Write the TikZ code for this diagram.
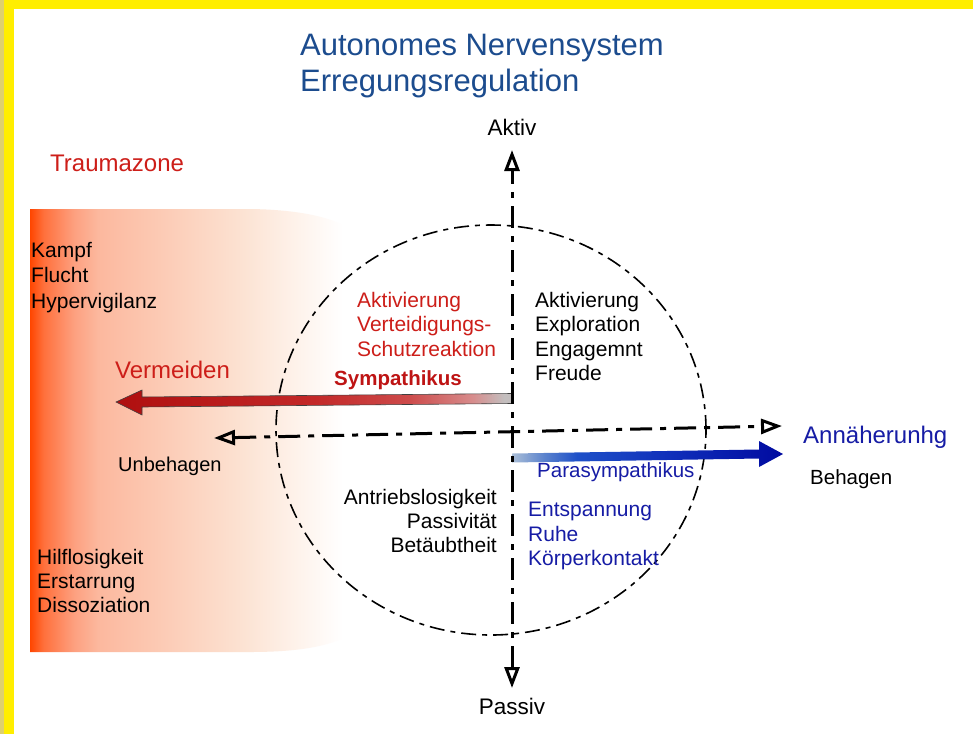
\documentclass[tikz,border=0pt]{standalone}
\usepackage{fontspec}
\setmainfont{Liberation Sans}
\usetikzlibrary{arrows.meta,calc}
\definecolor{framey}{RGB}{255,238,0}
\definecolor{framegold}{RGB}{222,208,110}
\definecolor{titleblue}{RGB}{28,76,142}
\definecolor{tzred}{RGB}{205,30,25}
\definecolor{boldred}{RGB}{190,20,20}
\definecolor{symA}{RGB}{175,15,15}
\definecolor{symB}{RGB}{195,40,40}
\definecolor{symC}{RGB}{205,75,75}
\definecolor{symD}{RGB}{215,140,140}
\definecolor{symE}{RGB}{195,190,190}
\definecolor{parablue}{RGB}{22,28,165}
\definecolor{paraA}{RGB}{170,190,215}
\definecolor{paraB}{RGB}{90,130,205}
\definecolor{paraC}{RGB}{30,80,200}
\definecolor{paraD}{RGB}{15,45,185}
\definecolor{paraE}{RGB}{0,10,160}
\definecolor{tzA}{RGB}{255,70,0}
\definecolor{tzB}{RGB}{255,112,60}
\definecolor{tzC}{RGB}{253,160,128}
\definecolor{tzD}{RGB}{252,184,158}
\definecolor{tzE}{RGB}{252,210,190}
\definecolor{tzF}{RGB}{252,226,210}
\definecolor{tzG}{RGB}{254,242,234}
\pgfdeclarehorizontalshading{traumashade}{100bp}{color(0bp)=(tzA); color(25bp)=(tzA); color(27bp)=(tzB); color(31.5bp)=(tzC); color(35bp)=(tzD); color(48bp)=(tzE); color(56bp)=(tzF); color(64bp)=(tzG); color(71bp)=(white); color(100bp)=(white)}
\pgfdeclarehorizontalshading{symshade}{100bp}{color(0bp)=(symA); color(25bp)=(symA); color(50bp)=(symB); color(62bp)=(symC); color(70bp)=(symD); color(74bp)=(symE); color(100bp)=(symE)}
\pgfdeclarehorizontalshading{parashade}{100bp}{color(0bp)=(paraA); color(25bp)=(paraA); color(31bp)=(paraB); color(37bp)=(paraC); color(55bp)=(paraD); color(75bp)=(paraE); color(100bp)=(paraE)}

\begin{document}
\begin{tikzpicture}[x=1pt,y=-1pt,
		body/.style={font=\fontsize{21}{24.5}\selectfont, inner sep=0pt, align=left},
		big/.style={body, font=\fontsize{24}{28}\selectfont},
		axisline/.style={line width=3pt, dash pattern=on 22pt off 8pt on 6pt off 8pt},
		ring/.style={line width=1.6pt, dash pattern=on 15pt off 6pt on 5pt off 6pt},
		>={Triangle[open,length=21pt,width=15pt]}]
				  \fill[white] (0,0) rectangle (973,734);
				  \fill[framey] (0,0) rectangle (973,9);
				  \fill[framey] (0,0) rectangle (14,734);
				  \fill[framegold] (0,0) rectangle (4,734);
				  \shade[shading=traumashade] (30,209) -- (250,209) .. controls (320,210) and (370,225) .. (370,262) -- (370,600) .. controls (370,640) and (320,652) .. (250,652) -- (30,652) -- cycle;

				  \coordinate (aktivtip) at (512,150);
				  \coordinate (passivtip) at (512,688);
				  \coordinate (unbehagentip) at (214,438);
				  \coordinate (annaeherungtip) at (782,426);
				  \coordinate (symstart) at (512,398.5);
				  \coordinate (symtip) at (116,402);
				  \coordinate (parastart) at (512,458);
				  \coordinate (paratip) at (783,454);

				  \draw[ring] (491,430) ellipse [x radius=215pt, y radius=205pt];

				  \draw[black!75, line width=0.6pt, shading=symshade]
				  	($(symstart)+(0,-5)$) -- ($(symtip)+(26,-5)$) -- ($(symtip)+(26,-12)$) -- (symtip)
				  	-- ($(symtip)+(26,13)$) -- ($(symtip)+(26,5)$) -- ($(symstart)+(0,5)$) -- cycle;
				  \shade[shading=parashade]
				  	($(parastart)+(0,-4.5)$) -- ($(paratip)+(-24,-4.5)$) -- ($(paratip)+(-24,-13)$) -- (paratip)
				  	-- ($(paratip)+(-24,13)$) -- ($(paratip)+(-24,4.5)$) -- ($(parastart)+(0,4.5)$) -- cycle;

				  \draw[axisline, <->] (passivtip) -- (aktivtip);
				  \draw[axisline, <->] (unbehagentip) -- (annaeherungtip);

				  \node[body, font=\fontsize{31}{36}\selectfont, text=titleblue, anchor=north west] (title) at (300,34) {Autonomes Nervensystem\\Erregungsregulation};
				  \node[body, font=\fontsize{22.5}{26}\selectfont] (aktiv) at (512,127) {Aktiv};
				  \node[body, font=\fontsize{22.5}{26}\selectfont] (passiv) at (512,706) {Passiv};
				  \node[big, text=tzred, anchor=west] (traumazone) at (50,163) {Traumazone};
				  \node[body, font=\fontsize{21}{25.5}\selectfont, anchor=north west] (kampf) at (31,242) {Kampf\\Flucht\\Hypervigilanz};
				  \node[body, font=\fontsize{21}{24}\selectfont, anchor=north west] (hilflos) at (37,549) {Hilflosigkeit\\Erstarrung\\Dissoziation};
				  \node[big, text=tzred, anchor=west] (vermeiden) at (115,370) {Vermeiden};
				  \node[body, font=\fontsize{20}{24}\selectfont, anchor=west] (unbehagen) at (118,466) {Unbehagen};
				  \node[body, text=tzred, anchor=north west] (abwehr) at (357,292) {Aktivierung\\Verteidigungs-\\Schutzreaktion};
				  \node[body, text=boldred, font=\fontsize{20.5}{24}\selectfont\bfseries, anchor=west] (sympathikus) at (334,380) {Sympathikus};
				  \node[body, anchor=north west] (neugier) at (535,292) {Aktivierung\\Exploration\\Engagemnt\\Freude};
				  \node[body, font=\fontsize{21}{24}\selectfont, align=right, anchor=north east] (antrieb) at (497,489) {Antriebslosigkeit\\Passivität\\Betäubtheit};
				  \node[body, text=parablue, anchor=north west] (ruhe) at (528,502) {Entspannung\\Ruhe\\Körperkontakt};
				  \node[body, text=parablue, font=\fontsize{20.5}{24}\selectfont, anchor=west] (parasym) at (537,472) {Parasympathikus};
				  \node[big, text=parablue, anchor=west] (annaeherung) at (803,437) {Annäherunhg};
				  \node[body, font=\fontsize{20.5}{24}\selectfont, anchor=west] (behagen) at (810,479) {Behagen};
				  \end{tikzpicture}
\end{document}
